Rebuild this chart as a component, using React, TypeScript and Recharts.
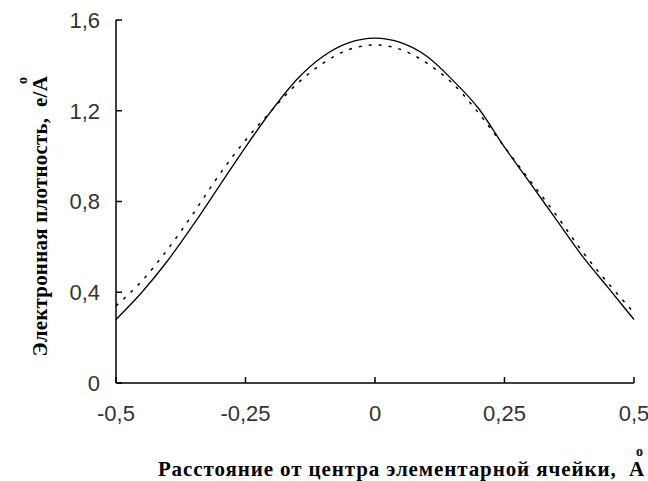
import { LineChart, Line, XAxis, YAxis } from "recharts";

const distance = [-0.5, -0.45, -0.4, -0.35, -0.3, -0.25, -0.2, -0.15, -0.1, -0.05, 0, 0.05, 0.1, 0.15, 0.2, 0.25, 0.3, 0.35, 0.4, 0.45, 0.5];
const densitySolid = [0.28, 0.4, 0.54, 0.7, 0.87, 1.04, 1.2, 1.34, 1.44, 1.5, 1.52, 1.5, 1.44, 1.335, 1.21, 1.04, 0.88, 0.72, 0.56, 0.42, 0.28];
const densityDotted = [0.34, 0.45, 0.59, 0.75, 0.92, 1.07, 1.2, 1.32, 1.41, 1.47, 1.49, 1.47, 1.41, 1.32, 1.19, 1.04, 0.89, 0.74, 0.58, 0.44, 0.31];
const xTicks = [-0.5, -0.25, 0, 0.25, 0.5];
const yTicks = [0, 0.4, 0.8, 1.2, 1.6];

const data = distance.map((d, i) => ({ d, solid: densitySolid[i], dotted: densityDotted[i] }));

const comma = (v: number) => String(v).replace(".", ",");

const tickStyle = { fontSize: 22, fill: "#333", fontFamily: "'Liberation Sans', Arial, sans-serif" };
const titleFont = "'Liberation Serif', 'Times New Roman', serif";

// the little "o" over the A is a separate text, as in the original
const YTitle = () => (
  <g transform="rotate(-90, 47, 76)">
    <text x={47} y={76} textAnchor="end" fontFamily={titleFont} fontWeight="bold" fontSize={21} letterSpacing={0.2} fill="#000" style={{ whiteSpace: "pre" }}>
      {"Электронная плотность,  e/A"}
    </text>
    <text x={46} y={56} textAnchor="end" fontFamily={titleFont} fontWeight="bold" fontSize={14} fill="#000">
      o
    </text>
  </g>
);

const XTitle = () => (
  <g>
    <text x={645} y={476} textAnchor="end" fontFamily={titleFont} fontWeight="bold" fontSize={21} letterSpacing={0.9} fill="#000" style={{ whiteSpace: "pre" }}>
      {"Расстояние от центра элементарной ячейки,  A"}
    </text>
    <text x={643} y={456} textAnchor="end" fontFamily={titleFont} fontWeight="bold" fontSize={14} fill="#000">
      o
    </text>
  </g>
);

export default function App() {
  return (
    <div style={{ position: "absolute", left: 0, top: 0, background: "#fff" }}>
      <LineChart width={648} height={481} data={data} margin={{ top: 20, right: 14, bottom: 0, left: 0 }}>
        <XAxis
          dataKey="d"
          type="number"
          domain={[-0.5, 0.5]}
          ticks={xTicks}
          tickFormatter={comma}
          axisLine={{ stroke: "#000", strokeWidth: 1.5 }}
          tickLine={{ stroke: "#000", strokeWidth: 1.5 }}
          tickSize={-6}
          tickMargin={28}
          tick={tickStyle}
          height={98}
          label={{ content: () => <XTitle /> }}
        />
        <YAxis
          type="number"
          domain={[0, 1.6]}
          ticks={yTicks}
          tickFormatter={comma}
          axisLine={{ stroke: "#000", strokeWidth: 1.5 }}
          tickLine={{ stroke: "#000", strokeWidth: 1.5 }}
          tickSize={-6}
          tickMargin={22}
          tick={tickStyle}
          width={116}
          label={{ content: () => <YTitle /> }}
        />
        <Line
          type="monotone"
          dataKey="dotted"
          stroke="#000"
          strokeWidth={1.5}
          strokeDasharray="3 7"
          dot={false}
          isAnimationActive={false}
        />
        <Line
          type="monotone"
          dataKey="solid"
          stroke="#000"
          strokeWidth={1.3}
          dot={false}
          isAnimationActive={false}
        />
      </LineChart>
    </div>
  );
}
